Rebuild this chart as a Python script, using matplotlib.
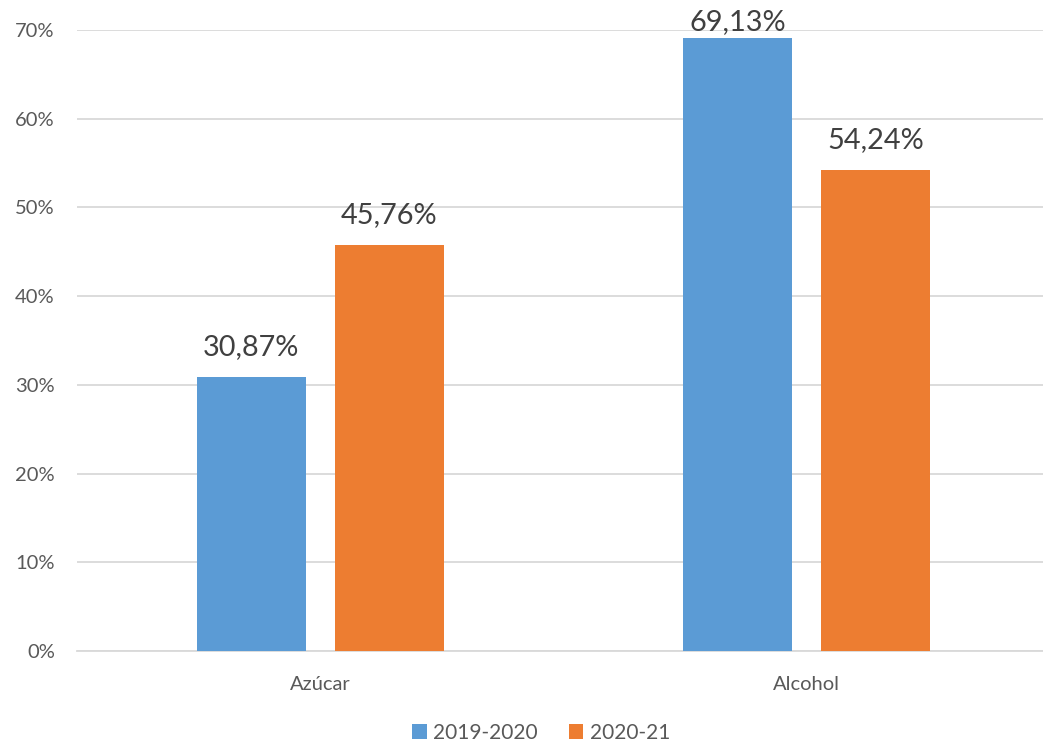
import matplotlib
matplotlib.use("Agg")
import matplotlib.pyplot as plt
import numpy as np

categories = ["Azúcar", "Alcohol"]
series_names = ["2019-2020", "2020-21"]
values_2019_2020 = [30.87, 69.13]
values_2020_21 = [45.76, 54.24]
label_2019_2020 = ["30,87%", "69,13%"]
label_2020_21 = ["45,76%", "54,24%"]
yticks = [0, 10, 20, 30, 40, 50, 60, 70]
ytick_labels = ["0%", "10%", "20%", "30%", "40%", "50%", "60%", "70%"]

colors = ["#5B9BD5", "#ED7D31"]
plt.rcParams['font.family'] = ['Lato', 'DejaVu Sans']

W, H = 1043, 743
fig = plt.figure(figsize=(W / 100, H / 100), dpi=100)
ax = fig.add_axes([77 / W, 92 / H, 973 / W, 621 / H])
ax.set_xlim(-0.5, 1.5)
ax.set_ylim(0, 70)

x = np.arange(len(categories))
bw = 0.224
off = 0.142
series = [values_2019_2020, values_2020_21]
labels = [label_2019_2020, label_2020_21]
for i, (vals, labs) in enumerate(zip(series, labels)):
    xs = x + (-off if i == 0 else off)
    ax.bar(xs, vals, width=bw, color=colors[i], label=series_names[i], zorder=3)
    for xi, v, lab in zip(xs, vals, labs):
        # bar top in display pixels; keep label inside the figure
        top_px = ax.transData.transform((xi, v))[1]
        gap = min(17, 708 - top_px)
        ax.annotate(lab, (xi, v), xytext=(0, gap * 0.72), textcoords="offset points",
                    ha="center", va="bottom", fontsize=20.8, color="#404040",
                    annotation_clip=False, zorder=4)

ax.set_yticks(yticks)
ax.set_yticklabels(ytick_labels)
ax.set_xticks(x)
ax.set_xticklabels(categories)
ax.yaxis.grid(True, color="#D9D9D9", linewidth=1.3, zorder=0)
for s in ["top", "right", "left"]:
    ax.spines[s].set_visible(False)
ax.spines["bottom"].set_color("#D9D9D9")
ax.spines["bottom"].set_linewidth(1.3)
ax.tick_params(axis="y", length=0, pad=16, labelsize=14.5, labelcolor="#595959")
ax.tick_params(axis="x", length=0, pad=18, labelsize=14.5, labelcolor="#595959")

leg = fig.legend(loc="center", bbox_to_anchor=(541 / W, 1 - 733 / H), ncol=2, frameon=False,
                 fontsize=15, handlelength=0.7, handleheight=0.7, handletextpad=0.3,
                 columnspacing=1.5)
for t in leg.get_texts():
    t.set_color("#595959")

fig.savefig("out.png", dpi=100)
